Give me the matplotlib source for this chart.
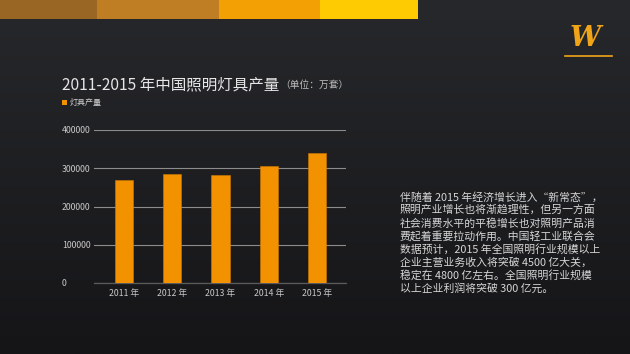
import matplotlib
matplotlib.use("Agg")
import matplotlib.pyplot as plt
import numpy as np

plt.rcParams["font.family"] = ["Noto Sans CJK SC", "DejaVu Sans"]

years = ["2011 年", "2012 年", "2013 年", "2014 年", "2015 年"]
output = [269000, 285000, 281500, 306500, 340000]
yticks = [0, 100000, 200000, 300000, 400000]

title = "2011-2015 年中国照明灯具产量"
unit = "（单位：万套）"
legend_label = "灯具产量"
note_lines = [
    "伴随着 2015 年经济增长进入“新常态”，",
    "照明产业增长也将渐趋理性，但另一方面",
    "社会消费水平的平稳增长也对照明产品消",
    "费起着重要拉动作用。中国轻工业联合会",
    "数据预计，2015 年全国照明行业规模以上",
    "企业主营业务收入将突破 4500 亿大关，",
    "稳定在 4800 亿左右。全国照明行业规模",
    "以上企业利润将突破 300 亿元。",
]

W, H = 630, 354
fig = plt.figure(figsize=(W / 100, H / 100), dpi=100)

# background with a soft vertical gradient (lighter at top)
bg = fig.add_axes([0, 0, 1, 1])
grad = np.linspace(0, 1, 256)[:, None]
top = np.array([0x27, 0x28, 0x2b]) / 255
bot = np.array([0x15, 0x15, 0x18]) / 255
img = top[None, None, :] * (1 - grad[..., None]) + bot[None, None, :] * grad[..., None]
bg.imshow(np.repeat(img, 4, axis=1), aspect="auto", extent=[0, W, H, 0], origin="upper")
bg.set_xlim(0, W)
bg.set_ylim(H, 0)
bg.axis("off")

# colour strip at top
strip = [(0, 97, "#9a6624"), (97, 219, "#bf7d24"), (219, 320, "#f2a003"), (320, 418, "#fecb02")]
for x0, x1, c in strip:
    bg.add_patch(plt.Rectangle((x0, 0), x1 - x0, 19, color=c, lw=0))

# logo stand-in
bg.text(585, 38, "W", color="#f0a418", fontsize=20, fontweight="bold", style="italic",
        family="DejaVu Serif", ha="center", va="center")
bg.plot([565, 612], [56, 56], color="#f0a418", lw=1.2)

# titles and legend
bg.text(62, 85, title, color="#e6e6e6", fontsize=11.2, va="center", ha="left")
bg.text(280, 85, unit, color="#bdbdbd", fontsize=7, va="center", ha="left")
bg.add_patch(plt.Rectangle((62, 99.5), 5, 5, color="#f39200", lw=0))
bg.text(70, 102, legend_label, color="#d0d0d0", fontsize=5.8, va="center", ha="left")

# paragraph
for i, line in enumerate(note_lines):
    bg.text(400, 197 + i * 13.1, line, color="#d6d6d6", fontsize=7.8, va="center", ha="left")

# chart
ax = fig.add_axes([94 / W, (H - 283) / H, 252 / W, 153 / H])
ax.set_facecolor("none")
x = np.arange(len(years))
ax.bar(x, output, width=0.38, color="#f39200", edgecolor="#d07800", linewidth=0.4, zorder=3)
ax.set_xlim(-0.62, 4.6)
ax.set_ylim(0, 400000)
ax.set_yticks(yticks)
ax.set_yticklabels([str(v) for v in yticks])
ax.set_xticks(x)
ax.set_xticklabels(years)
ax.grid(axis="y", color="#8c8c8c", lw=0.8, zorder=1)
for s in ["top", "right", "left"]:
    ax.spines[s].set_visible(False)
ax.spines["bottom"].set_color("#5a5a5a")
ax.spines["bottom"].set_linewidth(0.9)
ax.tick_params(length=0, colors="#c8c8c8", labelsize=6.3)
ax.tick_params(axis="y", pad=23)
ax.tick_params(axis="x", pad=4)
for lab in ax.get_yticklabels():
    lab.set_horizontalalignment("left")

fig.savefig("out.png", dpi=100, facecolor="#1e1f22")
